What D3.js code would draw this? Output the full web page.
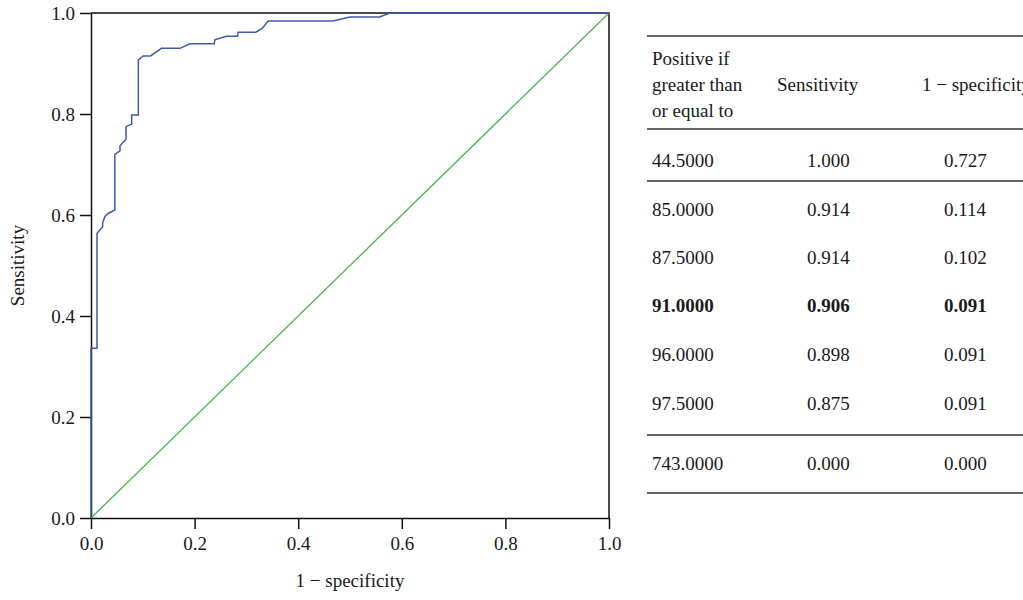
<!DOCTYPE html>
<html>
<head>
<meta charset="utf-8">
<script src="https://cdn.jsdelivr.net/npm/d3@7"></script>
<style>
  body { margin: 0; background: #fff; }
  svg text { font-family: "Liberation Serif", "DejaVu Serif", serif; fill: #1a1a1a; }
</style>
</head>
<body>
<svg id="chart" width="1023" height="600"></svg>
<script>
// ROC curve points
const fpr = [0, 0, 0.0116, 0.0116, 0.0225, 0.0225, 0.027, 0.033, 0.046, 0.046, 0.056, 0.056,
  0.0676, 0.0676, 0.0785, 0.0785, 0.0914, 0.0914, 0.101, 0.115, 0.136, 0.172, 0.191, 0.238,
  0.239, 0.261, 0.283, 0.284, 0.318, 0.33, 0.342, 0.467, 0.5, 0.557, 0.577, 1];
const tpr = [0, 0.336, 0.336, 0.564, 0.577, 0.585, 0.597, 0.603, 0.61, 0.72, 0.727, 0.737,
  0.75, 0.775, 0.78, 0.798, 0.798, 0.907, 0.915, 0.915, 0.93, 0.93, 0.939, 0.939,
  0.947, 0.954, 0.954, 0.962, 0.962, 0.969, 0.984, 0.984, 0.992, 0.992, 1, 1];

const axisTicks = [0, 0.2, 0.4, 0.6, 0.8, 1.0];

// coordinates table
const headerLines = ["Positive if", "greater than", "or equal to"];
const colHeaders = ["Sensitivity", "1 \u2212 specificity"];
const cutoffs = ["44.5000", "85.0000", "87.5000", "91.0000", "96.0000", "97.5000", "743.0000"];
const sensValues = ["1.000", "0.914", "0.914", "0.906", "0.898", "0.875", "0.000"];
const specValues = ["0.727", "0.114", "0.102", "0.091", "0.091", "0.091", "0.000"];
const boldRow = 3;

const svg = d3.select("#chart");
const fontSize = 19;

const x = d3.scaleLinear().domain([0, 1]).range([91, 609]);
const y = d3.scaleLinear().domain([0, 1]).range([518, 13]);

// axes
const xAxis = svg.append("g")
    .attr("transform", `translate(0,${y(0)})`)
    .call(d3.axisBottom(x).tickValues(axisTicks).tickFormat(d3.format(".1f")).tickSize(11).tickSizeOuter(0).tickPadding(8));
const yAxis = svg.append("g")
    .attr("transform", `translate(${x(0)},0)`)
    .call(d3.axisLeft(y).tickValues(axisTicks).tickFormat(d3.format(".1f")).tickSize(11).tickSizeOuter(0).tickPadding(5));

[xAxis, yAxis].forEach(g => {
  g.selectAll("path, line").attr("stroke", "#111").attr("stroke-width", 1.5);
  g.selectAll("text").attr("font-size", fontSize).attr("font-family", "Liberation Serif").attr("fill", "#1a1a1a");
});

// top and right frame
svg.append("path")
    .attr("d", `M${x(0)},${y(1)}H${x(1)}V${y(0)}`)
    .attr("fill", "none").attr("stroke", "#111").attr("stroke-width", 1.5);

// reference diagonal
svg.append("line")
    .attr("x1", x(0)).attr("y1", y(0)).attr("x2", x(1)).attr("y2", y(1))
    .attr("stroke", "#45b649").attr("stroke-width", 1.3);

// ROC curve
const pts = fpr.map((f, i) => [f, tpr[i]]);
svg.append("path")
    .datum(pts)
    .attr("d", d3.line().x(d => x(d[0])).y(d => y(d[1])))
    .attr("fill", "none").attr("stroke", "#3d5aad").attr("stroke-width", 1.5);

// axis labels
svg.append("text")
    .attr("x", (x(0) + x(1)) / 2).attr("y", 587)
    .attr("text-anchor", "middle").attr("font-size", fontSize)
    .text("1 \u2212 specificity");
svg.append("text")
    .attr("transform", `translate(24,${(y(0) + y(1)) / 2}) rotate(-90)`)
    .attr("text-anchor", "middle").attr("font-size", fontSize)
    .text("Sensitivity");

// table
const tbl = svg.append("g");
const rules = [36, 129, 181, 435, 493];
tbl.selectAll("line").data(rules).join("line")
    .attr("x1", 647).attr("x2", 1023)
    .attr("y1", d => d).attr("y2", d => d)
    .attr("stroke", "#333").attr("stroke-width", 1.5);

tbl.selectAll("text.hdr").data(headerLines).join("text")
    .attr("class", "hdr")
    .attr("x", 652).attr("y", (d, i) => 65 + i * 26)
    .attr("font-size", fontSize).text(d => d);

tbl.selectAll("text.colhdr").data(colHeaders).join("text")
    .attr("class", "colhdr")
    .attr("x", (d, i) => [777, 922][i]).attr("y", 91)
    .attr("font-size", fontSize).text(d => d);

const rowY = [167, 216, 264, 312, 361, 410, 470];
const colX = [652, 807, 944];
cutoffs.forEach((c, i) => {
  [c, sensValues[i], specValues[i]].forEach((v, j) => {
    tbl.append("text")
        .attr("x", colX[j]).attr("y", rowY[i])
        .attr("font-size", fontSize)
        .attr("font-weight", i === boldRow ? "bold" : "normal")
        .text(v);
  });
});
</script>
</body>
</html>
